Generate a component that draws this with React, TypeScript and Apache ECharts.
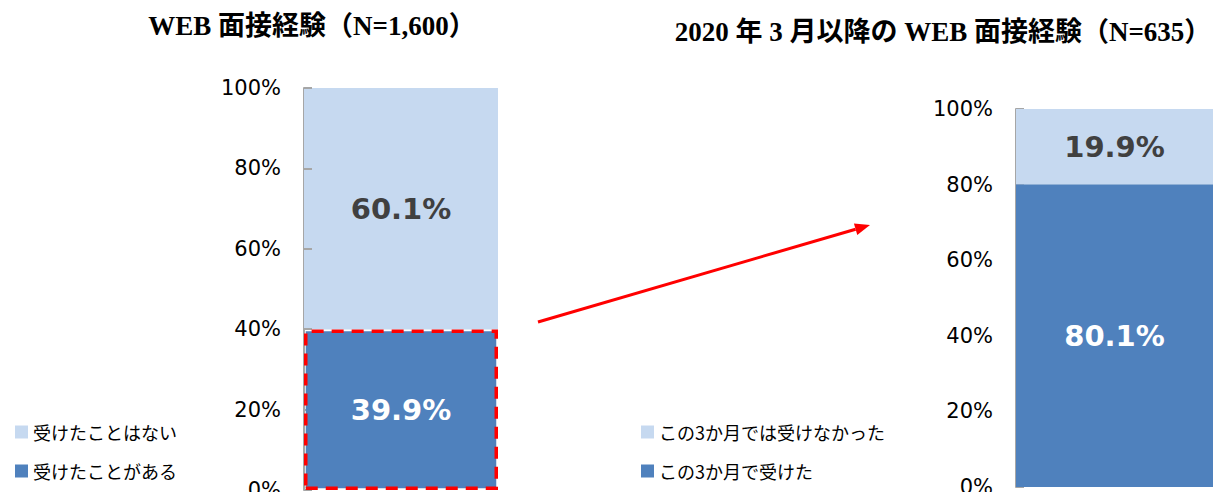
import React, { useEffect, useRef } from "react";
import * as echarts from "echarts";

const leftTitle = "WEB 面接経験（N=1,600）";
const rightTitle = "2020 年 3 月以降の WEB 面接経験（N=635）";
const leftNames = ["受けたことはない", "受けたことがある"];
const rightNames = ["この3か月では受けなかった", "この3か月で受けた"];
const leftHave = [39.9];
const leftNot = [60.1];
const rightHave = [80.1];
const rightNot = [19.9];
const category = ["全体"];

const LIGHT = "#C6D9F0";
const DARK = "#4F81BD";

export default function App() {
  const ref = useRef<HTMLDivElement>(null);
  useEffect(() => {
    if (!ref.current) return;
    const chart = echarts.init(ref.current, null, { renderer: "svg" });
    const yAxisCommon = {
      type: "value",
      min: 0,
      max: 100,
      interval: 20,
      splitLine: { show: false },
      axisLine: { show: true, lineStyle: { color: "#A6A6A6", width: 2 } },
      axisTick: { show: true, inside: true, length: 8, lineStyle: { color: "#A6A6A6", width: 2 } },
      axisLabel: {
        formatter: "{value}%",
        color: "#000",
        fontSize: 21,
        fontFamily: "DejaVu Sans",
        margin: 23,
      },
    };
    const labelDark = {
      show: true,
      position: "inside",
      formatter: "{c}%",
      fontSize: 29,
      fontWeight: "bold",
      fontFamily: "DejaVu Sans",
      color: "#404040",
    };
    const labelWhite = { ...labelDark, color: "#FFFFFF" };
    const ux = 332, uy = -97;
    const len = Math.sqrt(ux * ux + uy * uy);
    const dx = ux / len, dy = uy / len;
    const tip = [870, 225];
    const base = [tip[0] - 15 * dx, tip[1] - 15 * dy];
    const px = -dy, py = dx;
    const legendCommon = {
      orient: "vertical",
      top: 418,
      itemWidth: 13,
      itemHeight: 13,
      itemGap: 21,
      icon: "rect",
      textStyle: { fontSize: 18, fontFamily: "Noto Sans CJK JP", color: "#000" },
      selectedMode: false,
    };
    const titleStyle = {
      fontSize: 27,
      fontWeight: "bold",
      fontFamily: "Liberation Serif, Noto Sans CJK JP",
      color: "#000",
    };
    chart.setOption({
      animation: false,
      title: [
        { text: leftTitle, left: 307, top: 7, textAlign: "center", textStyle: titleStyle },
        { text: rightTitle, left: 938, top: 13, textAlign: "center", textStyle: titleStyle },
      ],
      legend: [
        {
          ...legendCommon,
          left: 10,
          data: [
            { name: leftNames[0], itemStyle: { color: LIGHT, borderWidth: 0 } },
            { name: leftNames[1], itemStyle: { color: DARK, borderWidth: 0 } },
          ],
        },
        {
          ...legendCommon,
          left: 636,
          data: [
            { name: rightNames[0], itemStyle: { color: LIGHT, borderWidth: 0 } },
            { name: rightNames[1], itemStyle: { color: DARK, borderWidth: 0 } },
          ],
        },
      ],
      grid: [
        { left: 304, top: 88, width: 194, height: 402, outerBoundsMode: "none", containLabel: false },
        { left: 1016, top: 109, width: 197, height: 378, outerBoundsMode: "none", containLabel: false },
      ],
      xAxis: [
        { type: "category", data: category, gridIndex: 0, show: false },
        { type: "category", data: category, gridIndex: 1, show: false },
      ],
      yAxis: [
        { ...yAxisCommon, gridIndex: 0 },
        { ...yAxisCommon, gridIndex: 1 },
      ],
      series: [
        {
          name: leftNames[1],
          type: "bar",
          stack: "L",
          xAxisIndex: 0,
          yAxisIndex: 0,
          data: leftHave,
          barWidth: "100%",
          itemStyle: { color: DARK, borderColor: "#FF0000", borderWidth: 3.5, borderType: [12, 8] },
          label: labelWhite,
          z: 1,
        },
        {
          name: leftNames[0],
          type: "bar",
          stack: "L",
          xAxisIndex: 0,
          yAxisIndex: 0,
          data: leftNot,
          barWidth: "100%",
          itemStyle: { color: LIGHT },
          label: labelDark,
          z: 0,
        },
        {
          name: rightNames[1],
          type: "bar",
          stack: "R",
          xAxisIndex: 1,
          yAxisIndex: 1,
          data: rightHave,
          barWidth: "100%",
          itemStyle: { color: DARK },
          label: labelWhite,
        },
        {
          name: rightNames[0],
          type: "bar",
          stack: "R",
          xAxisIndex: 1,
          yAxisIndex: 1,
          data: rightNot,
          barWidth: "100%",
          itemStyle: { color: LIGHT },
          label: labelDark,
        },
      ],
      graphic: [
        {
          type: "line",
          shape: { x1: 538, y1: 322, x2: base[0], y2: base[1] },
          style: { stroke: "#FF0000", lineWidth: 3 },
        },
        {
          type: "polygon",
          shape: {
            points: [
              tip,
              [base[0] + 6 * px, base[1] + 6 * py],
              [base[0] - 6 * px, base[1] - 6 * py],
            ],
          },
          style: { fill: "#FF0000" },
        },
      ],
    });
    return () => chart.dispose();
  }, []);
  return (
    <div
      ref={ref}
      style={{ position: "fixed", left: 0, top: 0, width: 1221, height: 492, background: "#fff" }}
    />
  );
}
